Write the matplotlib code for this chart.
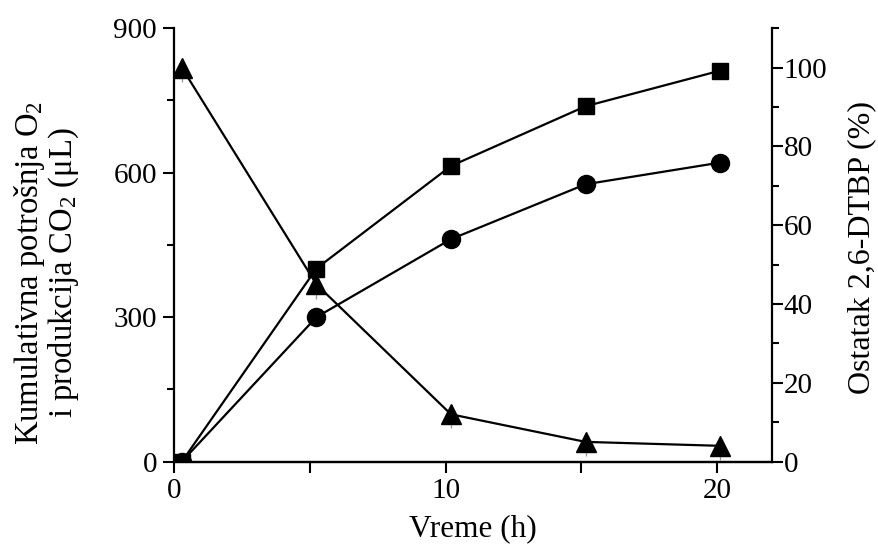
import matplotlib
matplotlib.use("Agg")
import matplotlib.pyplot as plt
from matplotlib.ticker import MultipleLocator, FixedLocator

plt.rcParams['font.family'] = ['Liberation Serif', 'DejaVu Serif']
plt.rcParams['mathtext.fontset'] = 'custom'
plt.rcParams['mathtext.rm'] = 'Liberation Serif'
plt.rcParams['mathtext.it'] = 'Liberation Serif:italic'

# Data
time_h = [0.3, 5.25, 10.2, 15.15, 20.1]
o2_uptake = [0, 401, 614, 738, 812]        # squares (left axis, uL)
co2_production = [0, 300, 462, 576, 621]   # circles (left axis, uL)
dtbp_remaining = [100, 45, 12, 5, 4]       # triangles (right axis, %)
dtbp_err_low = [3.6, 3.6, 3.6, 3.6, 3.6]
dtbp_err_high = [0, 0, 0, 0, 0]

fig = plt.figure(figsize=(8.79, 5.48), dpi=100)
ax = fig.add_axes([0.1976, 0.1577, 0.6804, 0.7907])
ax2 = ax.twinx()

lw = 1.6
ax.plot(time_h, o2_uptake, color='black', lw=lw, marker='s', ms=11.5, zorder=3)
ax.plot(time_h, co2_production, color='black', lw=lw, marker='o', ms=13, zorder=3)
ax2.errorbar(time_h, dtbp_remaining, yerr=[dtbp_err_low, dtbp_err_high], fmt='none',
             ecolor='#999999', elinewidth=0.9, zorder=2)
ax2.plot(time_h, dtbp_remaining, color='black', lw=lw, marker='^', ms=14, zorder=3)

ax.set_xlim(0, 22)
ax.set_ylim(0, 900)
ax2.set_ylim(0, 110)

ax.xaxis.set_major_locator(FixedLocator([0, 10, 20]))
ax.xaxis.set_minor_locator(FixedLocator([5, 15]))
ax.yaxis.set_major_locator(MultipleLocator(300))
ax.yaxis.set_minor_locator(MultipleLocator(150))
ax2.yaxis.set_major_locator(MultipleLocator(20))
ax2.yaxis.set_minor_locator(MultipleLocator(10))

for a in (ax, ax2):
    a.spines['top'].set_visible(False)
    for s in a.spines.values():
        s.set_linewidth(1.6)
    a.tick_params(which='major', direction='out', length=8, width=1.5, labelsize=21)
    a.tick_params(which='minor', direction='out', length=5, width=1.5)

ax2.spines['left'].set_visible(False)
ax.spines['right'].set_visible(False)
ax.tick_params(axis='y', which='both', right=False)
ax.tick_params(axis='x', which='major', length=8)
ax.tick_params(axis='x', which='minor', length=8)
ax.tick_params(axis='y', pad=4)
ax2.tick_params(axis='y', pad=0.5)

ax.set_xlabel('Vreme (h)', fontsize=22.5, labelpad=8)
ax.set_ylabel('Kumulativna potrošnja O$_2$\ni produkcija CO$_2$ (μL)', fontsize=23.5,
              linespacing=1.0)
ax.yaxis.set_label_coords(-0.155, 0.435)
ax2.set_ylabel('Ostatak 2,6-DTBP (%)', fontsize=23)
ax2.yaxis.set_label_coords(1.127, 0.493)

fig.savefig('out.png', dpi=100)
